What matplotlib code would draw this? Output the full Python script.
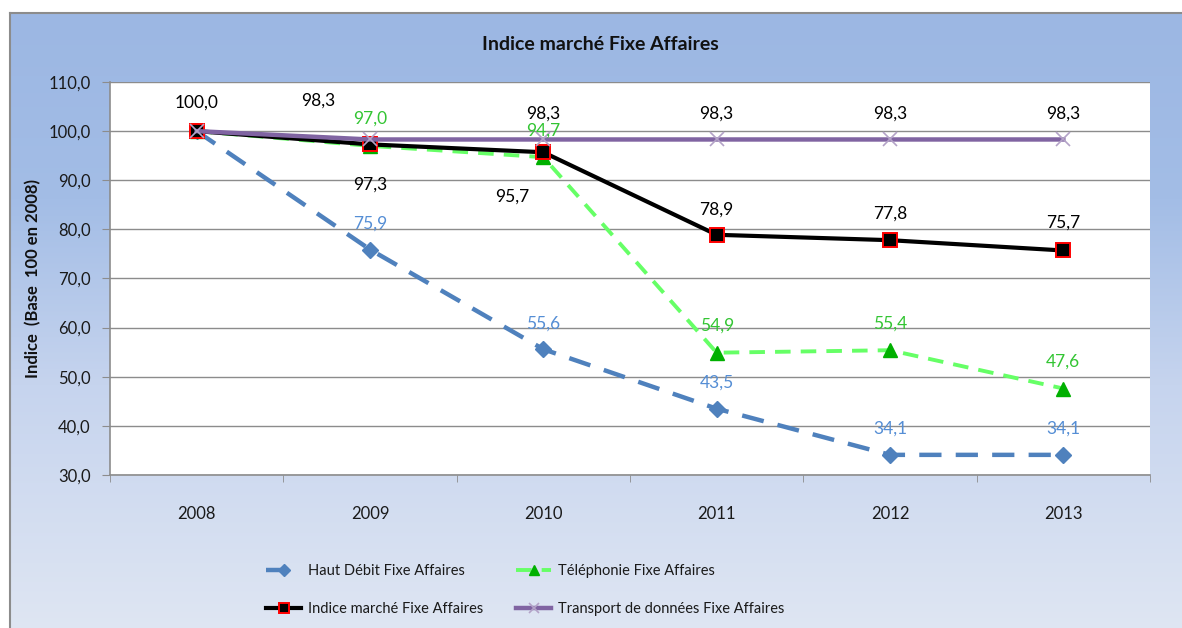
import numpy as np
import matplotlib
matplotlib.use("Agg")
import matplotlib.pyplot as plt
from matplotlib.colors import LinearSegmentedColormap

plt.rcParams['font.family'] = ['Lato', 'DejaVu Sans']

years = ["2008", "2009", "2010", "2011", "2012", "2013"]
haut_debit = [100.0, 75.9, 55.6, 43.5, 34.1, 34.1]
telephonie = [100.0, 97.0, 94.7, 54.9, 55.4, 47.6]
indice = [100.0, 97.3, 95.7, 78.9, 77.8, 75.7]
transport = [100.0, 98.3, 98.3, 98.3, 98.3, 98.3]
yticks = [30, 40, 50, 60, 70, 80, 90, 100, 110]

W, H = 1182, 628
fig = plt.figure(figsize=(W / 100, H / 100), dpi=100)
fig.patch.set_facecolor('white')

# background chart area with gradient
bg = fig.add_axes([0, 0, 1, 1], zorder=-5)
bg.axis('off')
cmap = LinearSegmentedColormap.from_list(
    'g', [(0.0, '#9cb7e3'), (0.3, '#a3bde6'), (0.6, '#c6d4ee'), (1.0, '#dfe6f3')])
grad = np.linspace(0, 1, 256).reshape(-1, 1)
bg.imshow(grad, cmap=cmap, aspect='auto', extent=(10, W + 5, H + 5, 13), zorder=0)
bg.plot([10, W + 5], [13, 13], color='#8c8c8c', lw=1.5, zorder=1)
bg.plot([10, 10], [13, H + 5], color='#8c8c8c', lw=1.5, zorder=1)
bg.set_xlim(0, W)
bg.set_ylim(H, 0)

left, top, right, bottom = 110, 82, 1150, 475
ax = fig.add_axes([left / W, (H - bottom) / H, (right - left) / W, (bottom - top) / H])
ax.set_facecolor('white')
x = np.arange(len(years))

ax.plot(x, haut_debit, color='#4f81bd', lw=3.2, dashes=(5, 3.2), marker='D',
        markersize=8.5, markerfacecolor='#4f81bd', markeredgecolor='#4f81bd', zorder=3,
        label='Haut Débit Fixe Affaires')
ax.plot(x, telephonie, color='#66ff66', lw=2.8, dashes=(4, 2.6), marker='^',
        markersize=9.5, markerfacecolor='#00b000', markeredgecolor='#00b000', zorder=4,
        label='Téléphonie Fixe Affaires')
ax.plot(x, indice, color='black', lw=3.0, marker='s', markersize=9.5,
        markerfacecolor='black', markeredgecolor='#ff0000', markeredgewidth=1.4, zorder=5,
        label='Indice marché Fixe Affaires')
ax.plot(x, transport, color='#8064a2', lw=3.2, marker='x', markersize=10,
        markeredgecolor='#b3a2c7', markeredgewidth=1.2, zorder=6,
        label='Transport de données Fixe Affaires')

ax.set_xlim(-0.5, len(years) - 0.5)
ax.set_ylim(30, 110)
ax.set_yticks(yticks)
ax.set_yticklabels([f"{v:.1f}".replace('.', ',') for v in yticks], fontsize=12, color='#1a1a1a')
ax.set_xticks(x)
ax.set_xticklabels(years, fontsize=12, color='#1a1a1a')
ax.set_xticks(np.arange(-0.5, len(years) + 0.5, 1), minor=True)
ax.tick_params(axis='x', which='major', length=0, pad=22)
ax.tick_params(axis='x', which='minor', length=5, color='#8c8c8c', direction='out')
ax.tick_params(axis='y', length=6, color='#8c8c8c', pad=8)
ax.grid(axis='y', color='#8c8c8c', lw=1.0)
ax.set_axisbelow(True)
for s in ['top', 'right']:
    ax.spines[s].set_visible(False)
for s in ['left', 'bottom']:
    ax.spines[s].set_color('#8c8c8c')
    ax.spines[s].set_linewidth(1.2)

def fmt(v):
    return f"{v:.1f}".replace('.', ',')

def lab(xi, v, dx, dy, color):
    ax.annotate(fmt(v), (xi, v), xytext=(dx, -dy), textcoords='offset pixels',
                ha='center', va='center', fontsize=12.5, color=color, zorder=10)

for i, v in enumerate(haut_debit):
    if i > 0:
        lab(i, v, 0, -26, '#558ed5')
for i, v in enumerate(telephonie):
    if i > 0:
        lab(i, v, 0, -27, '#33c533')
ind_off = [(0, -28), (0, 40), (-31, 44), (0, -25), (0, -27), (0, -28)]
for i, v in enumerate(indice):
    lab(i, v, ind_off[i][0], ind_off[i][1], 'black')
tr_off = [None, (-52, -39), (0, -26), (0, -26), (0, -26), (0, -26)]
for i, v in enumerate(transport):
    if i > 0:
        lab(i, v, tr_off[i][0], tr_off[i][1], 'black')

fig.text(600 / W, 1 - 45 / H, 'Indice marché Fixe Affaires', ha='center', va='center',
         fontsize=14, fontweight='bold', color='#111111')
fig.text(33 / W, 1 - 278 / H, 'Indice  (Base  100 en 2008)', ha='center', va='center',
         rotation=90, fontsize=12, fontweight='bold', color='#111111')

handles, labels = ax.get_legend_handles_labels()
order = [0, 2, 1, 3]
leg = fig.legend([handles[i] for i in order], [labels[i] for i in order], ncol=2,
                 loc='upper left', bbox_to_anchor=(266 / W, 1 - 564 / H), frameon=False,
                 fontsize=10.5, handlelength=2.4, handletextpad=0.45, columnspacing=2.3,
                 labelspacing=1.65, borderaxespad=0, borderpad=0, markerscale=0.75)
for t in leg.get_texts():
    t.set_color('#1a1a1a')

fig.savefig('out.png', dpi=100)
